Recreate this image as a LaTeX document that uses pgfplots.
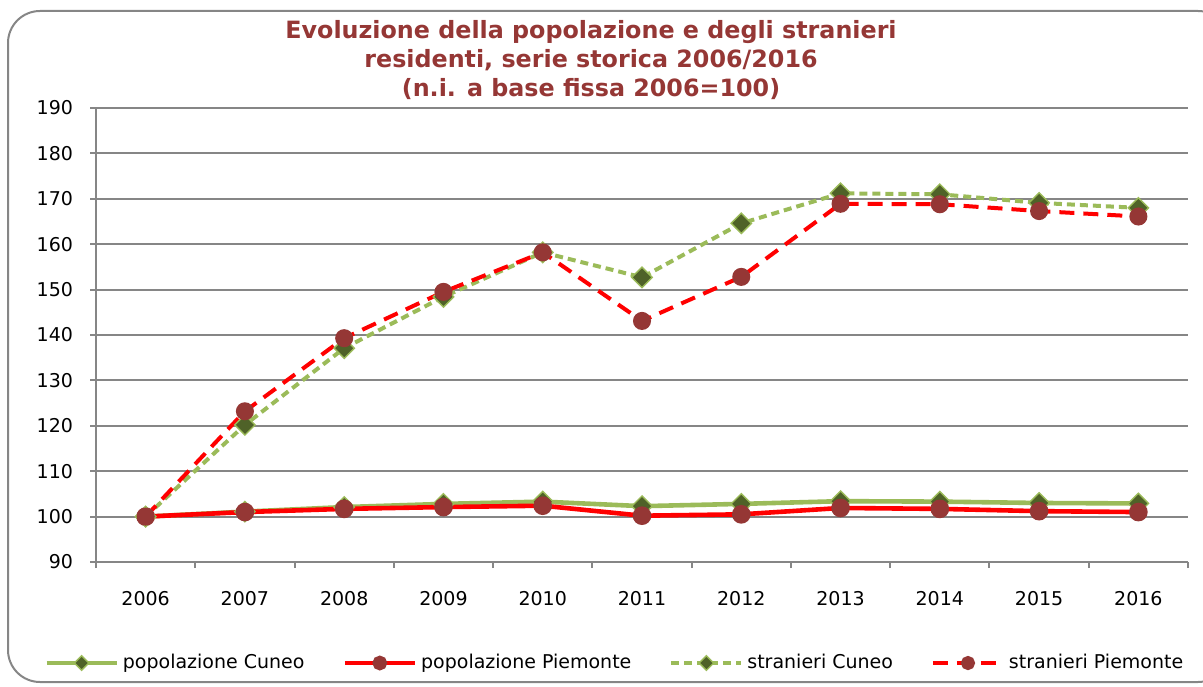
\documentclass[border=0pt]{standalone}
\usepackage{pgfplots}
\pgfplotsset{compat=1.18}
\usepackage{fontspec}
\setmainfont{DejaVu Sans}

\definecolor{cuneo}{HTML}{9BBB59}
\definecolor{cuneodark}{HTML}{4F6228}
\definecolor{piem}{HTML}{FF0000}
\definecolor{piemdark}{HTML}{953735}
\definecolor{gridgray}{HTML}{868686}
\definecolor{titlered}{HTML}{953735}

\begin{document}
\begin{tikzpicture}
\useasboundingbox (0pt,0pt) rectangle (601.5pt,343pt);
\clip (0pt,0pt) rectangle (601.5pt,343pt);
\draw[gridgray, line width=1pt, rounded corners=16pt] (4pt,2pt) rectangle (615pt,337.5pt);
\node[align=center, font=\fontsize{11.9}{14.6}\selectfont\bfseries, text=titlered] at (295.5pt,313pt)
  {Evoluzione della popolazione e degli stranieri\\residenti, serie storica 2006/2016\\(n.i. a base fissa 2006=100)};

\begin{axis}[
at={(48pt,62pt)}, anchor=south west,
width=546pt, height=227pt, scale only axis,
xmin=-0.5, xmax=10.5, ymin=90, ymax=190,
xtick={0,1,2,3,4,5,6,7,8,9,10},
xticklabels={2006,2007,2008,2009,2010,2011,2012,2013,2014,2015,2016},
major x tick style={draw=none},
minor xtick={-0.5,0.5,1.5,2.5,3.5,4.5,5.5,6.5,7.5,8.5,9.5,10.5},
ytick={90,100,110,120,130,140,150,160,170,180,190},
axis x line*=bottom, axis y line*=left,
axis line style={gridgray, line width=1pt, -},
tick style={gridgray, line width=1pt},
tick align=outside, major tick length=3pt, minor tick length=3pt,
ymajorgrids, grid style={gridgray, line width=1pt},
tick label style={font=\fontsize{9.5}{11}\selectfont},
/pgf/number format/assume math mode=true,
yticklabel style={xshift=-5pt},
xticklabel style={yshift=-8pt},
legend columns=4,
legend style={at={(0.476,-0.2225)}, anchor=center, draw=none, fill=none,
  font=\fontsize{9.5}{11}\selectfont,
  /tikz/every even column/.append style={column sep=17pt}},
legend image code/.code={\draw[mark repeat=2,mark phase=2,every mark/.append style={scale=0.72},#1] plot coordinates {(0pt,0pt) (17.5pt,0pt) (35pt,0pt)};},
clip=false,
]
\addplot[color=cuneo, line width=2.3pt, mark=square*, mark size=3.6pt,
  mark options={solid, rotate=45, fill=cuneodark, draw=cuneo, line width=0.7pt}]
  coordinates {(0,100) (1,101.1) (2,102.1) (3,102.8) (4,103.3) (5,102.3) (6,102.8) (7,103.4) (8,103.3) (9,103.0) (10,102.9)};
\addlegendentry{popolazione Cuneo}
\addplot[color=piem, line width=2.3pt, mark=*, mark size=3.5pt,
  mark options={solid, fill=piemdark, draw=piemdark}]
  coordinates {(0,100) (1,101.0) (2,101.7) (3,102.1) (4,102.4) (5,100.2) (6,100.5) (7,101.9) (8,101.7) (9,101.2) (10,101.0)};
\addlegendentry{popolazione Piemonte}
\addplot[color=cuneo, line width=2pt, dash pattern=on 4pt off 2.5pt, mark=square*, mark size=3.6pt,
  mark options={solid, rotate=45, fill=cuneodark, draw=cuneo, line width=0.7pt}]
  coordinates {(0,100) (1,120.2) (2,137.1) (3,148.4) (4,158.2) (5,152.7) (6,164.6) (7,171.2) (8,171.0) (9,169.1) (10,168.0)};
\addlegendentry{stranieri Cuneo}
\addplot[color=piem, line width=2pt, dash pattern=on 7.5pt off 4.5pt, mark=*, mark size=3.5pt,
  mark options={solid, fill=piemdark, draw=piemdark}]
  coordinates {(0,100) (1,123.2) (2,139.3) (3,149.5) (4,158.2) (5,143.1) (6,152.8) (7,168.9) (8,168.8) (9,167.3) (10,166.1)};
\addlegendentry{stranieri Piemonte}
\end{axis}
\end{tikzpicture}
\end{document}
